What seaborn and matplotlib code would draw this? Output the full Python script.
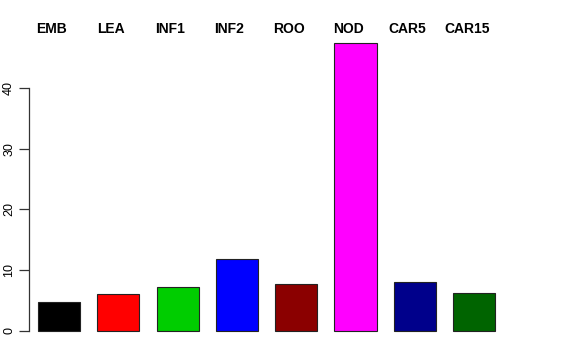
import matplotlib
matplotlib.use("Agg")
import matplotlib.pyplot as plt
import matplotlib.transforms as mtransforms
import seaborn as sns
import pandas as pd

categories = ["EMB", "LEA", "INF1", "INF2", "ROO", "NOD", "CAR5", "CAR15"]
values = [4.7, 6.1, 7.25, 11.8, 7.7, 47.4, 8.1, 6.25]
colors = ["#000000", "#FF0000", "#00CD00", "#0000FF", "#8B0000", "#FF00FF", "#00008B", "#006400"]
yticks = [0, 10, 20, 30, 40]

sns.set_style("white")
plt.rcParams["font.family"] = ["Liberation Sans", "DejaVu Sans"]

df = pd.DataFrame({"cat": categories, "val": values})

fig = plt.figure(figsize=(5.76, 3.6), dpi=100)
ax_left_px, ax_right_px = 29, 560
ax_bot_px, ax_top_px = 342.5, 31.5
ax = fig.add_axes([ax_left_px / 576, (360 - ax_bot_px) / 360,
                   (ax_right_px - ax_left_px) / 576, (ax_bot_px - ax_top_px) / 360])

sns.barplot(data=df, x="cat", y="val", hue="cat", palette=colors, order=categories,
            hue_order=categories, width=0.71, edgecolor="#222222", linewidth=0.8,
            saturation=1, legend=False, ax=ax)

unit = 59.3
ax.set_xlim(-30 / unit, (ax_right_px - 59) / unit)
ax.set_ylim(-1.9, 49.3)

for s in ["top", "right", "bottom"]:
    ax.spines[s].set_visible(False)
ax.spines["left"].set_bounds(0, 40)
ax.spines["left"].set_color("#333333")
ax.spines["left"].set_linewidth(0.9)
ax.set_xticks([])
ax.set_yticks(yticks)
ax.set_yticklabels([str(t) for t in yticks], rotation=90, va="center", fontsize=9, color="black")
ax.tick_params(axis="y", length=7, width=0.9, color="#333333", pad=3, left=True)
ax.set_xlabel("")
ax.set_ylabel("")

trans = mtransforms.blended_transform_factory(ax.transData, ax.transAxes)
y_lab = (ax_bot_px - 29) / (ax_bot_px - ax_top_px)
for i, c in enumerate(categories):
    ax.text(i - 0.125, y_lab, c, transform=trans, ha="center", va="center",
            fontsize=10, fontweight="bold", color="black", clip_on=False)

fig.savefig("out.png", dpi=100)
